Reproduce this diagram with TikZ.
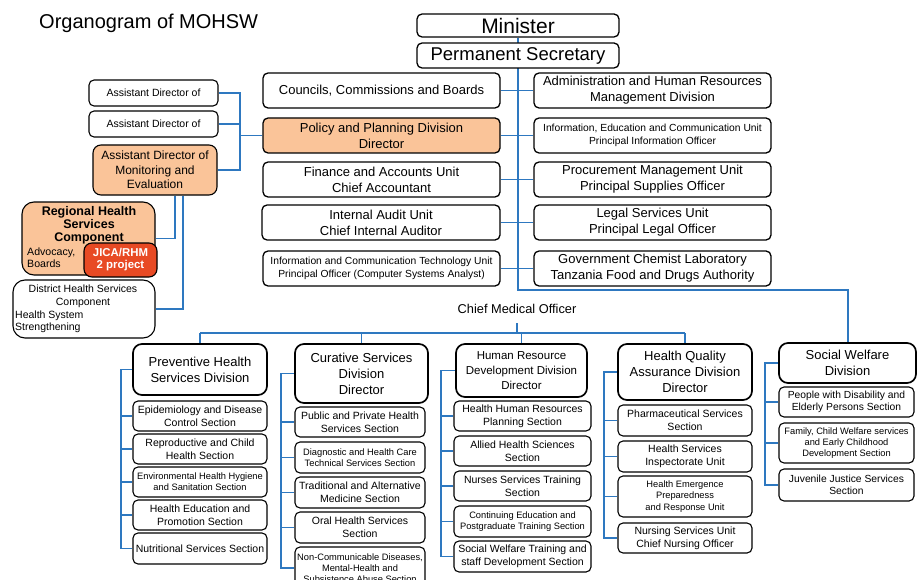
\documentclass[tikz,border=0pt]{standalone}
\usepackage{fontspec}
\setmainfont{Liberation Sans}
\usetikzlibrary{backgrounds}
\definecolor{lnblue}{HTML}{2E78C0}
\definecolor{orfill}{HTML}{FAC499}
\definecolor{jred}{HTML}{E84A24}
\newcommand\bx[7]{\node[#6, minimum width={(#4-#2)*1pt}, minimum height={(#5-#3)*1pt}] (#1) at ({(#2+#4)/2},{(#3+#5)/2}) {#7};}
\tikzset{
  bxs/.style={draw=black, line width=1.1pt, rounded corners=5pt, fill=white, inner sep=0pt, align=center, font=\fontsize{10.5}{12.8}\selectfont},
  topbox/.style={bxs, line width=1.3pt},
  divbox/.style={bxs, line width=1.7pt, rounded corners=9pt, font=\fontsize{13}{16}\selectfont},
  f13/.style={font=\fontsize{13}{16}\selectfont},
  f10/.style={font=\fontsize{10.3}{12.6}\selectfont},
  f9/.style={font=\fontsize{9.3}{11.3}\selectfont},
  conn/.style={draw=lnblue, line width=1.5pt},
  mainln/.style={draw=lnblue, line width=2pt},
  plain/.style={inner sep=0pt, align=center}
}
\begin{document}
\begin{tikzpicture}[x=1pt,y=-1pt]
\useasboundingbox (0,0) rectangle (920,580);
\clip (0,0) rectangle (920,580);

% title
\node[plain, anchor=west, font=\fontsize{20}{24}\selectfont] (title) at (39,23) {Organogram of MOHSW};

% top
\bx{mini}{417}{14}{619}{37}{topbox, font=\fontsize{21}{24}\selectfont}{Minister}
\bx{psec}{417}{43}{619}{68}{topbox, font=\fontsize{18.5}{22}\selectfont}{Permanent Secretary}

% left column
\bx{cnc}{263}{73}{500}{108}{topbox,f13}{Councils, Commissions and Boards}
\bx{pol}{263}{118}{500}{153}{topbox,f13,fill=orfill}{Policy and Planning Division\\Director}
\bx{fin}{263}{162}{500}{197}{topbox,f13}{Finance and Accounts Unit\\Chief Accountant}
\bx{aud}{262}{205}{500}{240}{topbox,f13}{Internal Audit Unit\\Chief Internal Auditor}
\bx{ict}{263}{251}{500}{286}{topbox,f10}{Information and Communication Technology Unit\\Principal Officer (Computer Systems Analyst)}
% right column
\bx{adm}{534}{73}{771}{108}{topbox,f13}{Administration and Human Resources\\Management Division}
\bx{iec}{534}{118}{771}{153}{topbox,f10}{Information, Education and Communication Unit\\Principal Information Officer}
\bx{pro}{534}{162}{771}{197}{topbox,f13}{Procurement Management Unit\\Principal Supplies Officer}
\bx{leg}{534}{205}{771}{240}{topbox,f13}{Legal Services Unit\\Principal Legal Officer}
\bx{gcl}{534}{251}{771}{286}{topbox,f13}{Government Chemist Laboratory\\Tanzania Food and Drugs Authority}

% assistant directors
\bx{ad1}{89}{80}{218}{106}{bxs}{Assistant Director of}
\bx{ad2}{89}{111}{218}{137}{bxs}{Assistant Director of}
\bx{adme}{93}{145}{217}{195}{bxs, rounded corners=8pt, fill=orfill, font=\fontsize{12}{14.5}\selectfont}{Assistant Director of\\Monitoring and\\Evaluation}
\bx{reg}{22}{202}{155}{275}{bxs, rounded corners=12pt, fill=orfill}{}
\node[plain, font=\bfseries\fontsize{12.5}{13}\selectfont] (regt) at (89,225) {Regional Health\\Services\\Component};
\node[plain, anchor=west, align=left, font=\fontsize{10.6}{12}\selectfont] (regs) at (27,258) {Advocacy,\\Boards};
\bx{jica}{84}{243}{157}{277}{bxs, rounded corners=8pt, fill=jred, text=white, font=\bfseries\fontsize{11.4}{12}\selectfont}{JICA/RHM\\2 project}
\bx{dis}{13}{280}{155}{338}{bxs, rounded corners=12pt}{}
\node[plain, font=\fontsize{10.5}{13}\selectfont] (dist) at (83,296.5) {District Health Services\\Component};
\node[plain, anchor=west, align=left, font=\fontsize{10.5}{12}\selectfont] (diss) at (15,322) {Health System\\Strengthening};

% chief medical officer
\node[plain, font=\fontsize{12.8}{15}\selectfont] (cmo) at (517,309) {Chief Medical Officer};

% divisions
\bx{prv}{133}{344}{267}{395}{divbox}{Preventive Health\\Services Division}
\bx{cur}{295}{344}{428}{403}{divbox}{Curative Services\\Division\\Director}
\bx{hrd}{456}{344}{587}{397}{divbox, font=\fontsize{11.5}{15}\selectfont}{Human Resource\\Development Division\\Director}
\bx{hqa}{618}{344}{752}{400}{divbox}{Health Quality\\Assurance Division\\Director}
\bx{swd}{779}{343}{916}{383}{divbox}{Social Welfare\\Division}

% preventive sections
\bx{p1}{133}{401}{267}{431}{bxs}{Epidemiology and Disease\\Control Section}
\bx{p2}{133}{434}{267}{464}{bxs}{Reproductive and Child\\Health Section}
\bx{p3}{133}{467}{267}{497}{bxs,f9}{Environmental Health Hygiene\\and Sanitation Section}
\bx{p4}{133}{500}{267}{530}{bxs}{Health Education and\\Promotion Section}
\bx{p5}{133}{533}{267}{564}{bxs}{Nutritional Services Section}
% curative sections
\bx{c1}{295}{407}{425}{437}{bxs}{Public and Private Health\\Services Section}
\bx{c2}{295}{442}{425}{473}{bxs,f9}{Diagnostic and Health Care\\Technical Services Section}
\bx{c3}{295}{477}{425}{508}{bxs}{Traditional and Alternative\\Medicine Section}
\bx{c4}{295}{512}{425}{543}{bxs}{Oral Health Services\\Section}
\bx{c5}{295}{547}{425}{589}{bxs,f9}{Non-Communicable Diseases,\\Mental-Health and\\Subsistence Abuse Section}
% hrd sections
\bx{h1}{454}{401}{591}{431}{bxs}{Health Human Resources\\Planning Section}
\bx{h2}{454}{436}{591}{466}{bxs}{Allied Health Sciences\\Section}
\bx{h3}{454}{471}{591}{501}{bxs}{Nurses Services Training\\Section}
\bx{h4}{454}{506}{591}{537}{bxs,f9}{Continuing Education and\\Postgraduate Training Section}
\bx{h5}{454}{541}{591}{572}{bxs}{Social Welfare Training and\\staff Development Section}
% hqa sections
\bx{q1}{618}{405}{752}{436}{bxs}{Pharmaceutical Services\\Section}
\bx{q2}{618}{441}{752}{472}{bxs}{Health Services\\Inspectorate Unit}
\bx{q3}{618}{476}{752}{517}{bxs,f9}{Health Emergence\\Preparedness\\and Response Unit}
\bx{q4}{618}{523}{752}{553}{bxs}{Nursing Services Unit\\Chief Nursing Officer}
% social welfare sections
\bx{s1}{779}{387}{914}{417}{bxs,f10}{People with Disability and\\Elderly Persons Section}
\bx{s2}{779}{423}{914}{463}{bxs,f9}{Family, Child Welfare services\\and Early Childhood\\Development Section}
\bx{s3}{779}{469}{914}{501}{bxs,f10}{Juvenile Justice Services\\Section}

% ---- connectors (behind the boxes) ----
\begin{pgfonlayer}{background}
\fill[white] (0,0) rectangle (920,580);
\coordinate (mj) at (518,290);
\coordinate (mtop) at (518,37);
\draw[mainln] (mini.south) -- (mini.south |- mj) -- (mj -| swd.north) -- (swd.north);
\foreach \n in {cnc,pol,fin,aud,ict}{\draw[conn] (\n.east) -- (\n.east -| mtop);}
\foreach \n in {adm,iec,pro,leg,gcl}{\draw[conn] (\n.west) -- (\n.west -| mtop);}

% assistant directors
\coordinate (lsp) at (240,0);
\draw[conn] (ad1.east) -- (ad1.east -| lsp) -- (adme.east -| lsp) -- (adme.east);
\draw[conn] (ad2.east) -- (ad2.east -| lsp);
\draw[conn] (pol.west) -- (pol.west -| lsp);
\coordinate (r1) at (175,0);
\coordinate (r2) at (183,0);
\draw[conn] (adme.south -| r1) -- (reg.east -| r1) -- (reg.east);
\draw[conn] (adme.south -| r2) -- (dis.east -| r2) -- (dis.east);

% CMO tree
\coordinate (cms) at (517,323);
\coordinate (cmj) at (517,333);
\draw[conn] (cms) -- (cmj);
\draw[conn] (prv.north |- cmj) -- (hqa.north |- cmj);
\foreach \n in {prv,cur,hrd,hqa}{\draw[conn] (\n.north |- cmj) -- (\n.north);}

% spines
\coordinate (sp1) at (121,0);
\draw[conn] (prv.west) -- (prv.west -| sp1) -- (p5.west -| sp1) -- (p5.west);
\foreach \n in {p1,p2,p3,p4}{\draw[conn] (\n.west -| sp1) -- (\n.west);}
\coordinate (sp2) at (281,0);
\draw[conn] (cur.west) -- (cur.west -| sp2) -- (c5.west -| sp2) -- (c5.west);
\foreach \n in {c1,c2,c3,c4}{\draw[conn] (\n.west -| sp2) -- (\n.west);}
\coordinate (sp3) at (441,0);
\draw[conn] (hrd.west) -- (hrd.west -| sp3) -- (h5.west -| sp3) -- (h5.west);
\foreach \n in {h1,h2,h3,h4}{\draw[conn] (\n.west -| sp3) -- (\n.west);}
\coordinate (sp4) at (604,0);
\draw[conn] (hqa.west) -- (hqa.west -| sp4) -- (q4.west -| sp4) -- (q4.west);
\foreach \n in {q1,q2,q3}{\draw[conn] (\n.west -| sp4) -- (\n.west);}
\coordinate (sp5) at (765,0);
\draw[conn] (swd.west) -- (swd.west -| sp5) -- (s3.west -| sp5) -- (s3.west);
\foreach \n in {s1,s2}{\draw[conn] (\n.west -| sp5) -- (\n.west);}
\end{pgfonlayer}
\end{tikzpicture}
\end{document}
